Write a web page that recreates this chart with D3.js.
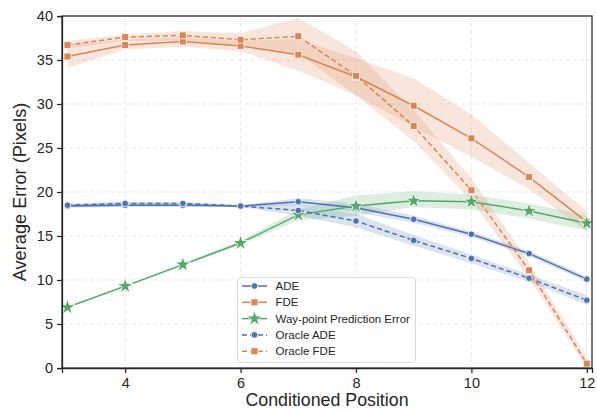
<!DOCTYPE html>
<html><head><meta charset="utf-8">
<script src="https://cdn.jsdelivr.net/npm/d3@7"></script>
<style>body{margin:0;background:#fff}svg text{font-family:"Liberation Sans",Arial,sans-serif}</style>
</head><body><svg id="c" width="597" height="412"></svg>
<script>
const positions = [3,4,5,6,7,8,9,10,11,12];
const xTicks = [4,6,8,10,12];
const yTicks = [0,5,10,15,20,25,30,35,40];
const ade      = [18.4,18.5,18.5,18.4,18.9,18.2,16.9,15.2,13.0,10.1];
const adeLo    = [18.2,18.3,18.3,18.3,18.5,17.7,16.5,14.9,12.7,9.8];
const adeHi    = [18.6,18.7,18.7,18.5,19.3,18.7,17.3,15.5,13.3,10.4];
const fde      = [35.4,36.7,37.1,36.6,35.6,33.1,29.8,26.1,21.7,16.6];
const fdeLo    = [34.1,36.2,36.5,36.0,33.8,31.0,27.4,24.0,20.3,15.5];
const fdeHi    = [36.8,37.3,37.6,37.2,37.4,35.2,32.9,28.8,23.3,17.8];
const wp       = [6.9,9.3,11.75,14.2,17.4,18.4,19.0,18.9,17.85,16.45];
const wpLo     = [6.8,9.2,11.6,14.0,16.8,17.3,18.3,18.0,17.0,15.6];
const wpHi     = [7.0,9.4,11.9,14.5,18.0,19.6,20.1,19.7,18.7,17.3];
const oade     = [18.5,18.7,18.7,18.4,17.9,16.7,14.5,12.45,10.2,7.7];
const oadeLo   = [18.3,18.5,18.5,18.3,17.3,16.0,13.9,11.9,9.8,7.2];
const oadeHi   = [18.7,18.9,18.9,18.5,18.6,17.5,15.1,12.9,10.6,8.3];
const ofde     = [36.7,37.6,37.8,37.3,37.7,33.2,27.5,20.2,11.1,0.5];
const ofdeLo   = [36.3,37.2,37.2,36.6,35.7,31.0,25.8,19.0,10.2,0.0];
const ofdeHi   = [37.2,37.9,38.3,38.0,39.8,36.0,29.3,21.6,12.0,1.2];
const seriesNames = ["ADE","FDE","Way-point Prediction Error","Oracle ADE","Oracle FDE"];
const colors = ["#4c72b0","#dd8452","#55a868","#4c72b0","#dd8452"];

const series = [
 {name:seriesNames[0],v:ade,lo:adeLo,hi:adeHi,c:colors[0],m:"circle",dash:null},
 {name:seriesNames[1],v:fde,lo:fdeLo,hi:fdeHi,c:colors[1],m:"square",dash:null},
 {name:seriesNames[2],v:wp,lo:wpLo,hi:wpHi,c:colors[2],m:"star",dash:null},
 {name:seriesNames[3],v:oade,lo:oadeLo,hi:oadeHi,c:colors[3],m:"circle",dash:"5,3"},
 {name:seriesNames[4],v:ofde,lo:ofdeLo,hi:ofdeHi,c:colors[4],m:"square",dash:"5,3"}
];

const svg = d3.select("#c");
const L=62,R=592,T=16,B=368;
const x = d3.scaleLinear().domain([2.905,12.09]).range([L,R]);
const y = d3.scaleLinear().domain([0,40]).range([B,T]);

// grid
const g = svg.append("g");
g.selectAll(".gx").data(xTicks).join("line").attr("x1",d=>x(d)).attr("x2",d=>x(d)).attr("y1",T).attr("y2",B)
 .attr("stroke","#e6e6e6").attr("stroke-dasharray","4,3").attr("stroke-width",0.9);
g.selectAll(".gy").data(yTicks).join("line").attr("y1",d=>y(d)).attr("y2",d=>y(d)).attr("x1",L).attr("x2",R)
 .attr("stroke","#e6e6e6").attr("stroke-dasharray","4,3").attr("stroke-width",0.9);

svg.append("clipPath").attr("id","clp").append("rect").attr("x",L).attr("y",T).attr("width",R-L).attr("height",B-T);
const plot = svg.append("g").attr("clip-path","url(#clp)");

const area = (s)=>d3.area().x((d,i)=>x(positions[i])).y0((d,i)=>y(s.lo[i])).y1((d,i)=>y(s.hi[i]));
series.forEach(s=>{
  plot.append("path").datum(s.v).attr("d",area(s)).attr("fill",s.c).attr("fill-opacity",0.2).attr("stroke","none");
});
const line = d3.line().x((d,i)=>x(positions[i])).y(d=>y(d));
const sym = {circle:d3.symbol().type(d3.symbolCircle).size(34), square:d3.symbol().type(d3.symbolSquare).size(48), star:d3.symbol().type(d3.symbolStar).size(75)};
series.forEach(s=>{
  plot.append("path").datum(s.v).attr("d",line).attr("fill","none").attr("stroke",s.c).attr("stroke-width",1.5)
   .attr("stroke-dasharray",s.dash);
});
series.forEach(s=>{
  plot.selectAll(null).data(s.v).join("path").attr("d",sym[s.m])
   .attr("transform",(d,i)=>`translate(${x(positions[i])},${y(d)})`)
   .attr("fill",s.c).attr("stroke","#fff").attr("stroke-width",0.8);
});

// frame
svg.append("rect").attr("x",L).attr("y",T).attr("width",R-L).attr("height",B-T).attr("fill","none").attr("stroke","#262626").attr("stroke-width",1.25);

// axes
const xa = svg.append("g").attr("transform",`translate(0,${B})`).call(d3.axisBottom(x).tickValues(xTicks).tickSize(5).tickPadding(5).tickFormat(d3.format("d")));
const ya = svg.append("g").attr("transform",`translate(${L},0)`).call(d3.axisLeft(y).tickValues(yTicks).tickSize(5).tickPadding(4).tickFormat(d3.format("d")));
[xa,ya].forEach(a=>{a.select(".domain").attr("stroke","#262626").attr("stroke-width",1.25);
 a.selectAll(".tick line").attr("stroke","#262626").attr("stroke-width",1.25);
 a.selectAll("text").attr("font-size",14.5).attr("fill","#262626").attr("font-family","Liberation Sans, Arial, sans-serif");});

svg.append("text").attr("x",(L+R)/2).attr("y",406).attr("text-anchor","middle").attr("font-size",17.8).attr("fill","#262626").text("Conditioned Position");
svg.append("text").attr("transform",`translate(26,${(T+B)/2}) rotate(-90)`).attr("text-anchor","middle").attr("font-size",18.2).attr("fill","#262626").text("Average Error (Pixels)");

// legend
const lg = svg.append("g");
lg.append("rect").attr("x",237.5).attr("y",277.5).attr("width",178).attr("height",85).attr("rx",3)
 .attr("fill","#fff").attr("fill-opacity",0.8).attr("stroke","#d0d0d0").attr("stroke-width",0.8);
series.forEach((s,i)=>{
  const yy = 286+i*16.3;
  lg.append("line").attr("x1",242).attr("x2",267).attr("y1",yy).attr("y2",yy).attr("stroke",s.c).attr("stroke-width",1.5).attr("stroke-dasharray",s.dash);
  lg.append("path").attr("d",sym[s.m]).attr("transform",`translate(254.5,${yy})`).attr("fill",s.c).attr("stroke","#fff").attr("stroke-width",0.8);
  lg.append("text").attr("x",275.5).attr("y",yy+4).attr("font-size",11.5).attr("fill","#262626").text(s.name);
});
</script></body></html>
